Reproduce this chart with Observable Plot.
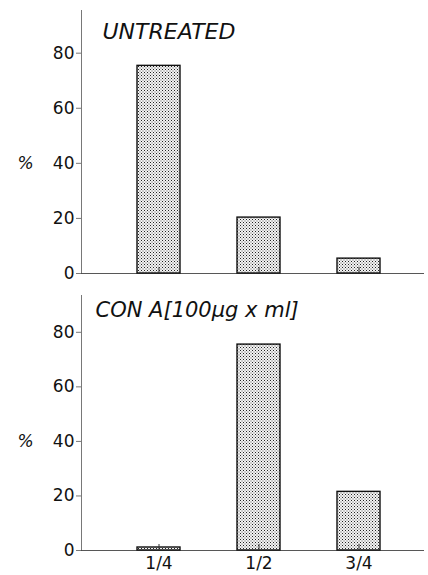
<!DOCTYPE html>
<html>
<head>
<meta charset="utf-8">
<script src="https://cdn.jsdelivr.net/npm/d3@7"></script>
<script src="https://cdn.jsdelivr.net/npm/@observablehq/plot@0.6"></script>
<style>
  html, body { margin: 0; padding: 0; background: #fff; }
  #chart { width: 428px; height: 575px; }
  #chart svg { display: block; }
</style>
</head>
<body>
<div id="chart"></div>
<script>
const categories = ["1/4", "1/2", "3/4"];
const untreatedValues = [75.4, 20.3, 5.4];
const conAValues = [1.1, 75.5, 21.5];
const yTicks = [0, 20, 40, 60, 80];
const titles = ["UNTREATED", "CON A[100µg x ml]"];

const font = "DejaVu Sans, sans-serif";

function panel({values, title, height, marginTop, marginBottom, yMax, showLabels, titleDx, titleDy, titleSize, id}) {
  const data = categories.map((c, i) => ({cat: c, value: values[i]}));
  const svg = Plot.plot({
    width: 428,
    height,
    marginLeft: 81,
    marginRight: 4,
    marginTop,
    marginBottom,
    style: {fontFamily: font, background: "white", color: "#111"},
    x: {type: "band", domain: categories, paddingInner: 0.57, paddingOuter: 0.5, align: 0.56, axis: null, label: null},
    y: {domain: [0, yMax], axis: null, label: null},
    marks: [
      Plot.frame({anchor: "left", stroke: "#555", strokeWidth: 0.8}),
      Plot.ruleY([0], {stroke: "#444", strokeWidth: 0.9}),
      Plot.barY(data, {x: "cat", y: "value", fill: `url(#${id})`, stroke: "#111", strokeWidth: 1.4}),
      Plot.axisX({tickSize: -6, tickFormat: () => "", label: null, stroke: "#333", strokeWidth: 1}),
      showLabels ? Plot.axisX({tickSize: 0, tickPadding: 6, label: null, fontSize: 17, fill: "#111"}) : null,
      Plot.axisY({ticks: yTicks, tickSize: 5, tickPadding: 2, label: null, fontSize: 17, fill: "#111", stroke: "#555", strokeWidth: 0.8}),
      Plot.text(["%"], {frameAnchor: "left", y: [40], dx: -64, fontSize: 17, fontStyle: "italic", fill: "#111"}),
      Plot.text([title], {frameAnchor: "top-left", textAnchor: "start", lineAnchor: "bottom", dx: titleDx, dy: titleDy, fontSize: titleSize, fontStyle: "italic", fill: "#111"})
    ]
  });
  svg.insertAdjacentHTML("afterbegin",
    `<defs><pattern id="${id}" width="3" height="3" patternUnits="userSpaceOnUse">
      <rect width="3" height="3" fill="#f4f4f4"/>
      <rect x="0" y="0" width="1" height="1" fill="#222"/>
      <rect x="1.5" y="1.5" width="1" height="1" fill="#555"/>
    </pattern></defs>`);
  return svg;
}

const chart = document.getElementById("chart");
chart.appendChild(panel({values: untreatedValues, title: titles[0], height: 290, marginTop: 10, marginBottom: 17, yMax: 95.5, showLabels: false, titleDx: 21, titleDy: 28, titleSize: 22, id: "dots1"}));
chart.appendChild(panel({values: conAValues, title: titles[1], height: 285, marginTop: 5, marginBottom: 25, yMax: 93.5, showLabels: true, titleDx: 14, titleDy: 21, titleSize: 21, id: "dots2"}));
</script>
</body>
</html>
